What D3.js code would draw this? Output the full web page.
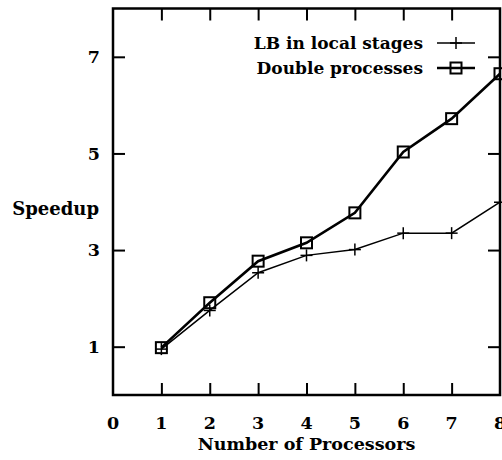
<!DOCTYPE html>
<html>
<head>
<meta charset="utf-8">
<script src="https://cdn.jsdelivr.net/npm/d3@7"></script>
<style>
  body { margin: 0; background: #fff; }
  text { font-family: "DejaVu Serif", serif; font-weight: bold; fill: #000; }
</style>
</head>
<body>
<div id="chart-area"></div>
<script>
// data
var processors = [1, 2, 3, 4, 5, 6, 7, 8];
var lbLocal = [0.95, 1.75, 2.53, 2.89, 3.01, 3.35, 3.35, 3.99];
var doubleProc = [0.98, 1.91, 2.77, 3.15, 3.77, 5.03, 5.72, 6.65];
var xTicks = [0, 1, 2, 3, 4, 5, 6, 7, 8];
var yTicks = [1, 3, 5, 7];
var seriesNames = ["LB in local stages", "Double processes"];

var margin = {top: 8.5, left: 113, bottom: 65, right: 2};
var width = 502 - margin.left - margin.right,
    height = 460 - margin.top - margin.bottom;

var svg = d3.select("#chart-area")
    .append("svg")
        .attr("width", 502)
        .attr("height", 460);

var g = svg.append("g")
    .attr("transform", "translate(" + margin.left + ", " + margin.top + ")");

// Scale
var x = d3.scaleLinear()
    .range([0, width])
    .domain([0, 8]);

var y = d3.scaleLinear()
    .range([height, 0])
    .domain([0, 8]);

var tickLen = 12;

// Axes (ticks point inward, labels placed separately)
g.append("g")
    .attr("transform", "translate(0, " + height + ")")
    .call(d3.axisTop(x).tickValues(processors.slice(0, 7)).tickSize(tickLen).tickFormat(""));
g.append("g")
    .call(d3.axisBottom(x).tickValues(processors.slice(0, 7)).tickSize(tickLen).tickFormat(""));
g.append("g")
    .call(d3.axisRight(y).tickValues(yTicks).tickSize(tickLen).tickFormat(""));
g.append("g")
    .attr("transform", "translate(" + width + ", 0)")
    .call(d3.axisLeft(y).tickValues(yTicks).tickSize(tickLen).tickFormat(""));

g.selectAll(".domain").remove();
g.selectAll(".tick line")
    .attr("stroke", "#000")
    .attr("stroke-width", 2);

// frame
g.append("rect")
    .attr("width", width)
    .attr("height", height)
    .attr("fill", "none")
    .attr("stroke", "#000")
    .attr("stroke-width", 2.5);

// tick labels
g.selectAll(".xlab")
    .data(xTicks)
    .enter().append("text")
        .attr("x", d => x(d))
        .attr("y", height + 34)
        .attr("text-anchor", "middle")
        .attr("font-size", "17.5px")
        .text(d => d);

g.selectAll(".ylab")
    .data(yTicks)
    .enter().append("text")
        .attr("x", -13)
        .attr("y", d => y(d))
        .attr("dy", "0.35em")
        .attr("text-anchor", "end")
        .attr("font-size", "17.5px")
        .text(d => d);

// Axis labels
g.append("text")
    .attr("x", x(4))
    .attr("y", height + 55)
    .attr("text-anchor", "middle")
    .attr("font-size", "17.5px")
    .text("Number of Processors");

g.append("text")
    .attr("x", -14)
    .attr("y", y(3.85))
    .attr("dy", "0.35em")
    .attr("text-anchor", "end")
    .attr("font-size", "18px")
    .text("Speedup");

var line = d3.line()
    .x((d, i) => x(processors[i]))
    .y(d => y(d));

// LB in local stages
g.append("path")
    .datum(lbLocal)
    .attr("d", line)
    .attr("fill", "none")
    .attr("stroke", "#000")
    .attr("stroke-width", 1.5);

function plus(sel, size) {
    sel.append("line").attr("x1", -size).attr("x2", size)
        .attr("stroke", "#000").attr("stroke-width", 1.5);
    sel.append("line").attr("y1", -size).attr("y2", size)
        .attr("stroke", "#000").attr("stroke-width", 1.5);
}

g.selectAll(".plus")
    .data(lbLocal)
    .enter().append("g")
        .attr("transform", (d, i) => "translate(" + x(processors[i]) + "," + y(d) + ")")
        .call(plus, 6);

// Double processes
g.append("path")
    .datum(doubleProc)
    .attr("d", line)
    .attr("fill", "none")
    .attr("stroke", "#000")
    .attr("stroke-width", 2.6);

g.selectAll(".sq")
    .data(doubleProc)
    .enter().append("rect")
        .attr("x", (d, i) => x(processors[i]) - 5.5)
        .attr("y", d => y(d) - 5.5)
        .attr("width", 11)
        .attr("height", 11)
        .attr("fill", "none")
        .attr("stroke", "#000")
        .attr("stroke-width", 2);

// Legend
var legend = g.append("g")
    .attr("transform", "translate(" + (437 - margin.left) + ", " + (43 - margin.top) + ")");

var rows = legend.selectAll(".row")
    .data(seriesNames)
    .enter().append("g")
        .attr("transform", (d, i) => "translate(0, " + i * 25 + ")");

rows.append("text")
    .attr("x", -14)
    .attr("dy", "0.35em")
    .attr("text-anchor", "end")
    .attr("font-size", "17px")
    .text(d => d);

rows.append("line")
    .attr("x1", 0)
    .attr("x2", 38)
    .attr("stroke", "#000")
    .attr("stroke-width", (d, i) => i == 0 ? 1.5 : 2.6);

rows.filter((d, i) => i == 0).append("g")
    .attr("transform", "translate(19, 0)")
    .call(plus, 6);

rows.filter((d, i) => i == 1).append("rect")
    .attr("x", 19 - 5.5)
    .attr("y", -5.5)
    .attr("width", 11)
    .attr("height", 11)
    .attr("fill", "none")
    .attr("stroke", "#000")
    .attr("stroke-width", 2);
</script>
</body>
</html>
